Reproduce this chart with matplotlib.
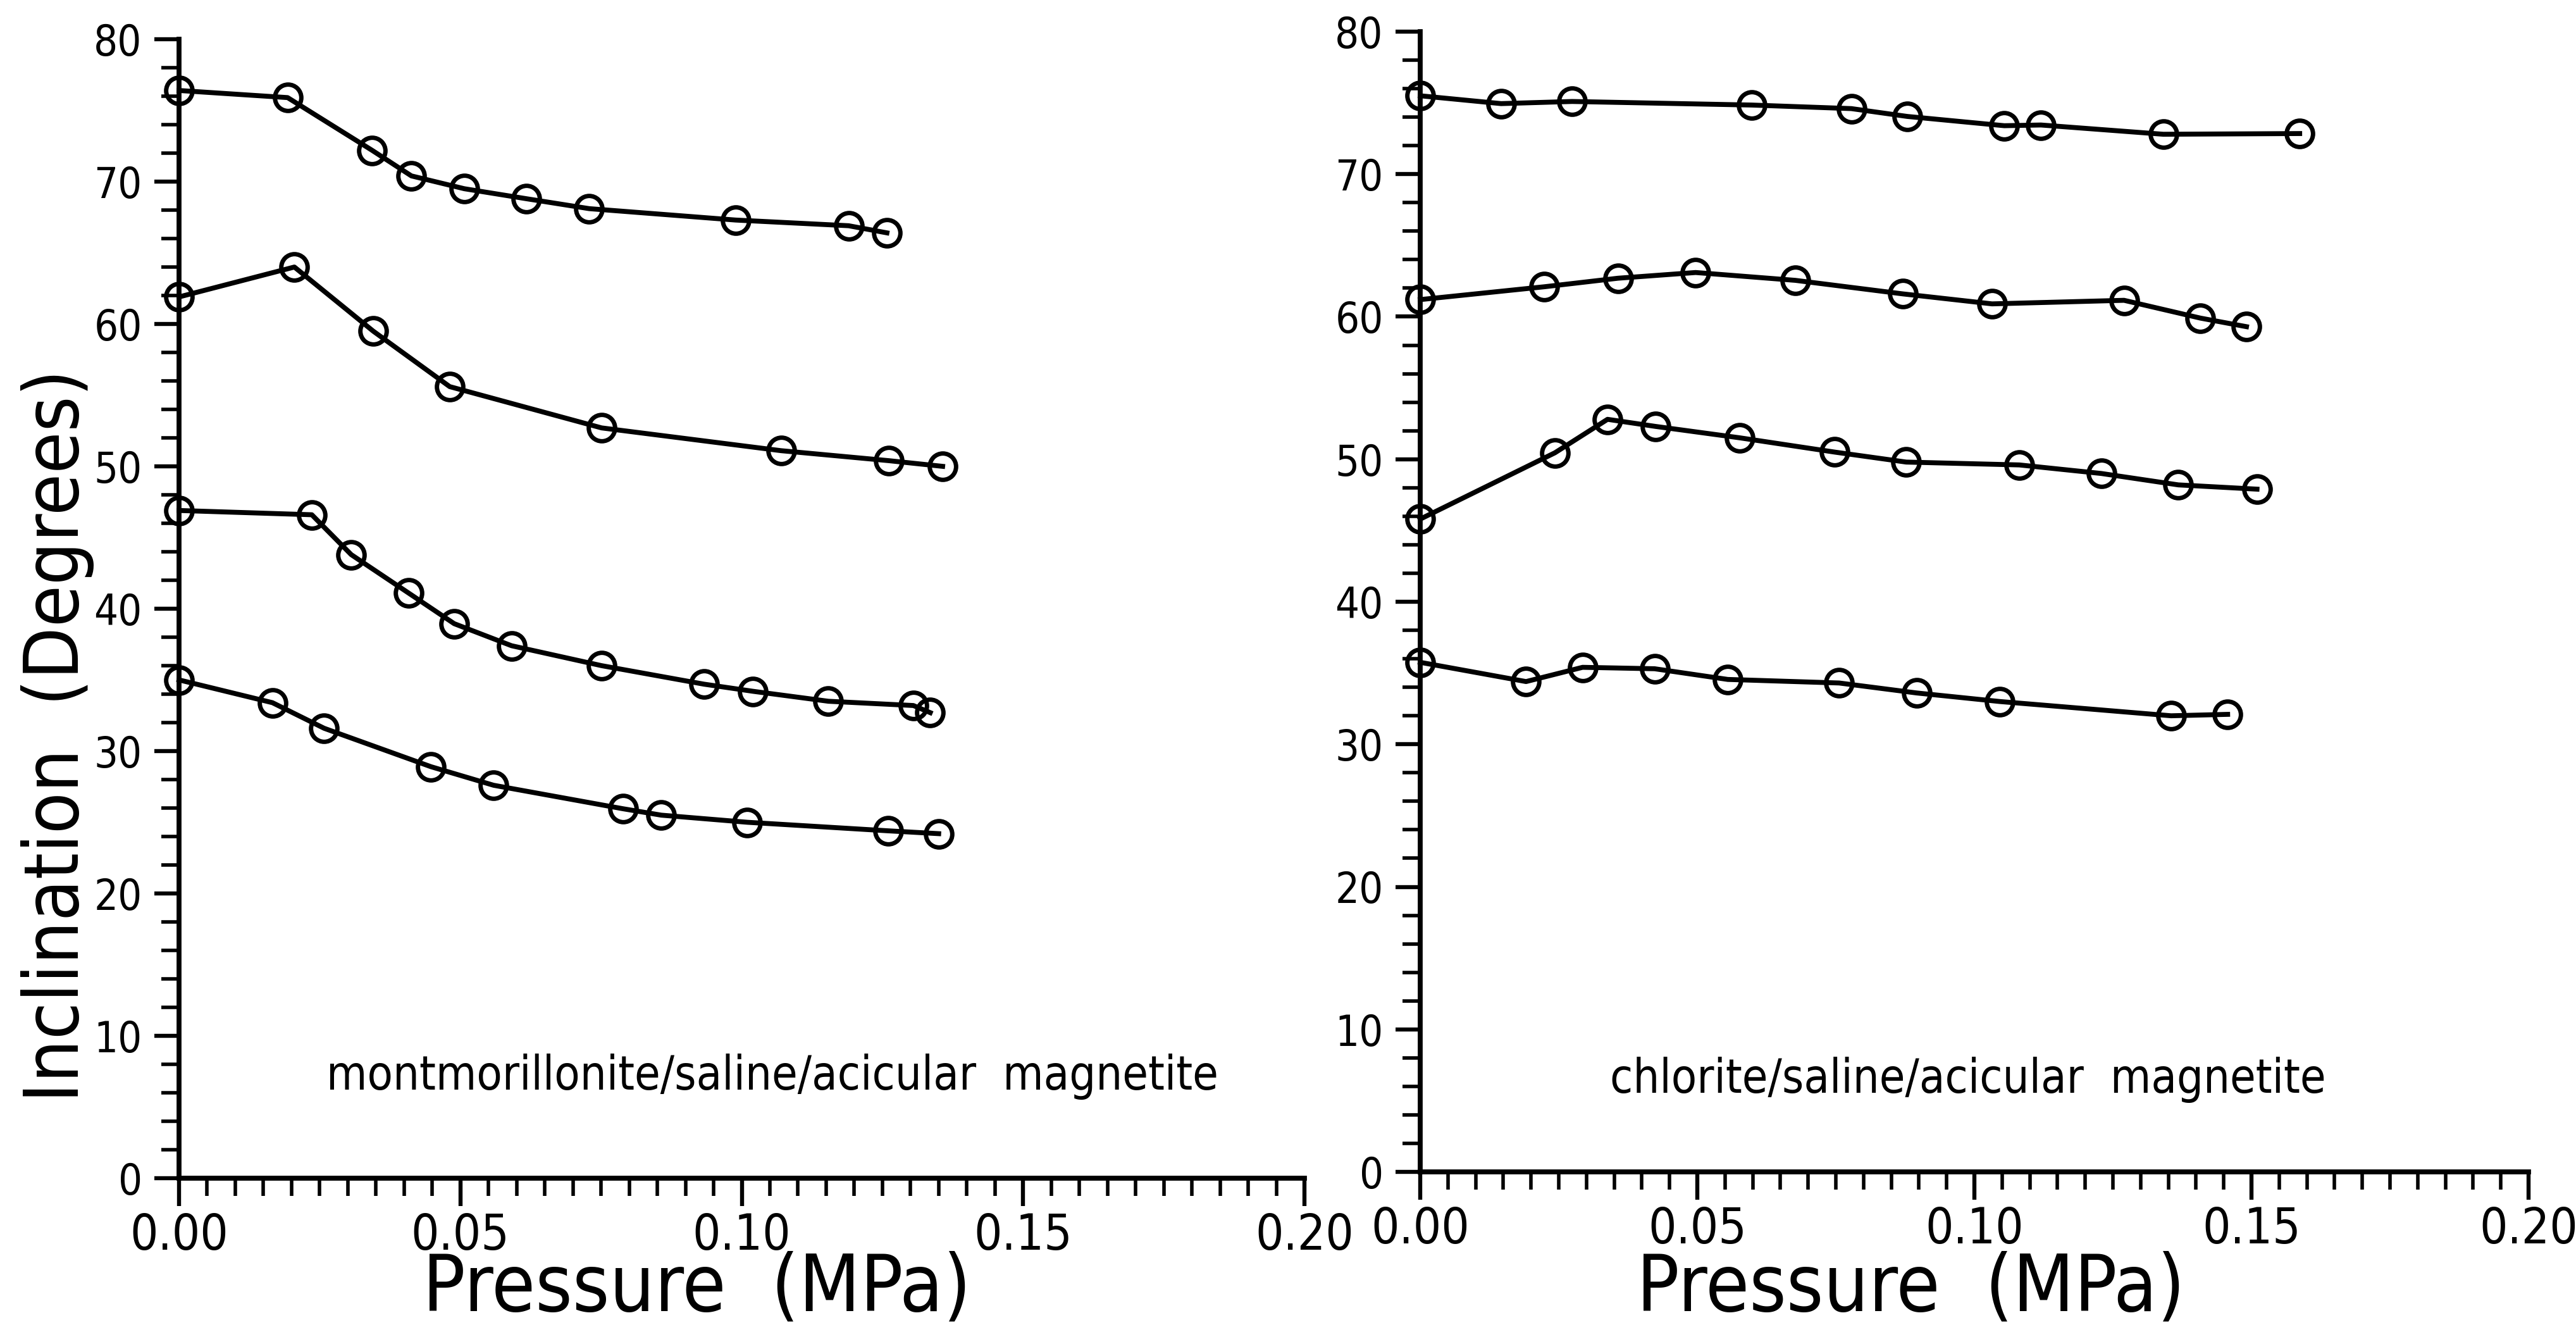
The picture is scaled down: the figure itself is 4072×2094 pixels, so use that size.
import numpy as np
import matplotlib
matplotlib.use("Agg")
import matplotlib.pyplot as plt
from matplotlib.ticker import MultipleLocator, FormatStrFormatter
from matplotlib import font_manager

# ---------------- data ----------------
# Left panel: montmorillonite/saline/acicular magnetite
L1_x = [0.0, 0.0193, 0.0343, 0.0413, 0.0507, 0.0617, 0.0729, 0.0989, 0.1190, 0.1258]
L1_y = [76.4, 75.9, 72.2, 70.4, 69.5, 68.8, 68.1, 67.3, 66.9, 66.4]
L2_x = [0.0, 0.0205, 0.0345, 0.0481, 0.0751, 0.1070, 0.1261, 0.1357]
L2_y = [61.9, 64.0, 59.5, 55.6, 52.7, 51.1, 50.4, 50.0]
L3_x = [0.0, 0.0236, 0.0306, 0.0408, 0.0489, 0.0591, 0.0751, 0.0933, 0.1020, 0.1154, 0.1305, 0.1335]
L3_y = [46.9, 46.6, 43.8, 41.1, 38.95, 37.4, 36.0, 34.7, 34.2, 33.5, 33.2, 32.7]
L4_x = [0.0, 0.0166, 0.0258, 0.0448, 0.0559, 0.0789, 0.0857, 0.1010, 0.1260, 0.1350]
L4_y = [35.0, 33.4, 31.6, 28.9, 27.6, 25.95, 25.5, 25.0, 24.4, 24.2]

# Right panel: chlorite/saline/acicular magnetite
R1_x = [0.0, 0.0146, 0.0274, 0.0598, 0.0778, 0.0879, 0.1054, 0.1120, 0.1341, 0.1587]
R1_y = [75.5, 74.95, 75.1, 74.85, 74.6, 74.05, 73.4, 73.45, 72.8, 72.85]
R2_x = [0.0, 0.0224, 0.0357, 0.0497, 0.0677, 0.0871, 0.1032, 0.1270, 0.1408, 0.1491]
R2_y = [61.2, 62.1, 62.7, 63.1, 62.55, 61.6, 60.9, 61.15, 59.9, 59.3]
R3_x = [0.0, 0.0243, 0.0338, 0.0425, 0.0577, 0.0748, 0.0877, 0.1081, 0.1229, 0.1368, 0.1510]
R3_y = [45.8, 50.45, 52.8, 52.3, 51.5, 50.5, 49.8, 49.6, 49.0, 48.2, 47.9]
R4_x = [0.0, 0.0191, 0.0293, 0.0423, 0.0555, 0.0756, 0.0896, 0.1046, 0.1355, 0.1457]
R4_y = [35.75, 34.4, 35.4, 35.3, 34.55, 34.3, 33.6, 33.0, 32.0, 32.1]

left_series = [(L1_x, L1_y), (L2_x, L2_y), (L3_x, L3_y), (L4_x, L4_y)]
right_series = [(R1_x, R1_y), (R2_x, R2_y), (R3_x, R3_y), (R4_x, R4_y)]

left_note = "montmorillonite/saline/acicular  magnetite"
right_note = "chlorite/saline/acicular  magnetite"
x_label = "Pressure  (MPa)"
y_label = "Inclination  (Degrees)"

# ---------------- fonts ----------------
names = {f.name for f in font_manager.fontManager.ttflist}
if "Liberation Sans Narrow" in names:
    FAM = ["Liberation Sans Narrow", "DejaVu Sans"]
    ST = "normal"
else:
    FAM = ["DejaVu Sans"]
    ST = "condensed"
plt.rcParams["font.family"] = FAM
plt.rcParams["font.stretch"] = ST

W, H = 4072, 2094
DPI = 200
fig = plt.figure(figsize=(W / DPI, H / DPI), dpi=DPI)
fig.patch.set_facecolor("white")

def px_axes(x0, x1, y_top, y_bot):
    return [x0 / W, 1 - y_bot / H, (x1 - x0) / W, (y_bot - y_top) / H]

axL = fig.add_axes(px_axes(283, 2062, 62, 1862))
axR = fig.add_axes(px_axes(2245, 3997, 50, 1852))

LW = 2.8
for ax, series in ((axL, left_series), (axR, right_series)):
    for xs, ys in series:
        ax.plot(xs, ys, color="black", lw=LW, marker="o", markersize=15,
                markerfacecolor="none", markeredgecolor="black",
                markeredgewidth=2.5, clip_on=False, zorder=3)
    ax.set_xlim(0, 0.20)
    ax.set_ylim(0, 80)
    for s in ("top", "right"):
        ax.spines[s].set_visible(False)
    for s in ("left", "bottom"):
        ax.spines[s].set_linewidth(2.8)
    ax.xaxis.set_major_locator(MultipleLocator(0.05))
    ax.xaxis.set_minor_locator(MultipleLocator(0.005))
    ax.yaxis.set_major_locator(MultipleLocator(10))
    ax.yaxis.set_minor_locator(MultipleLocator(2))
    ax.xaxis.set_major_formatter(FormatStrFormatter("%.2f"))
    ax.yaxis.set_major_formatter(FormatStrFormatter("%d"))
    ax.tick_params(axis="x", which="major", direction="out", length=16, width=2.3, pad=3)
    ax.tick_params(axis="x", which="minor", direction="out", length=10, width=2.0)
    ax.tick_params(axis="y", which="major", direction="out", length=14, width=2.3, pad=7)
    ax.tick_params(axis="y", which="minor", direction="out", length=10, width=2.0)
    for lab in ax.get_xticklabels():
        lab.set_fontsize(28)
        lab.set_fontstretch(ST)
    for lab in ax.get_yticklabels():
        lab.set_fontsize(24)
        lab.set_fontstretch(ST)
    ax.patch.set_alpha(0)

# axis labels (placed by pixel positions measured on the reference)
for cx in (1101, 3020):
    fig.text(cx / W, 1 - 2072 / H, x_label, fontsize=45, fontstretch=ST,
             ha="center", va="baseline")
fig.text(124 / W, 1 - 1163 / H, y_label, fontsize=43, fontstretch=ST,
         ha="center", va="baseline", rotation=90, rotation_mode="anchor")

axL.text(0.527, 0.0894, left_note, transform=axL.transAxes, ha="center", va="center",
         fontsize=26.5, fontstretch=ST)
axR.text(0.494, 0.081, right_note, transform=axR.transAxes, ha="center", va="center",
         fontsize=26.5, fontstretch=ST)

fig.savefig("out.png", dpi=DPI, facecolor="white")
